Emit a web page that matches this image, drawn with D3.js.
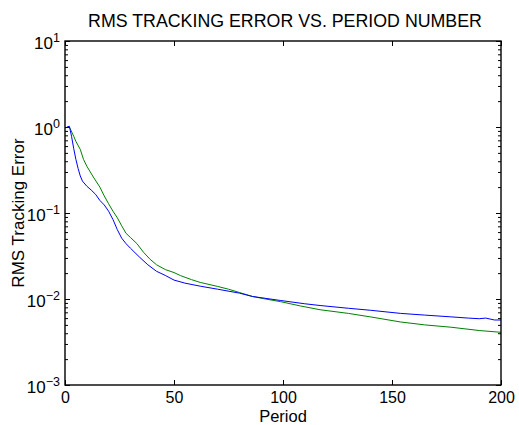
<!DOCTYPE html>
<html>
<head>
<meta charset="utf-8">
<script src="https://cdn.jsdelivr.net/npm/d3@7"></script>
<style>
html,body{margin:0;padding:0;background:#fff;}
text{font-family:"Liberation Sans",Arial,Helvetica,sans-serif;fill:#000;}
</style>
</head>
<body>
<svg id="chart" width="519" height="425"></svg>
<script>
// ---- data ----
const titleText = "RMS TRACKING ERROR VS. PERIOD NUMBER";
const xLabel = "Period";
const yLabel = "RMS Tracking Error";
const xTicks = [0, 50, 100, 150, 200];
const yTickExps = [-3, -2, -1, 0, 1];

const bluePeriods = [1, 2, 3, 4, 5, 6, 7, 8, 10, 12, 14, 16, 18, 20, 22, 24, 26, 28, 30, 34, 38, 42, 46, 50, 55, 62, 70, 80, 86, 99, 110, 117, 130, 140, 154, 165, 177, 185, 190, 193, 197, 200];
const blueValues  = [1.0, 1.02, 0.78, 0.56, 0.42, 0.33, 0.27, 0.235, 0.205, 0.185, 0.165, 0.14, 0.124, 0.105, 0.084, 0.064, 0.051, 0.044, 0.039, 0.031, 0.025, 0.021, 0.0188, 0.0166, 0.0153, 0.0141, 0.0130, 0.0117, 0.0107, 0.0096, 0.0088, 0.0084, 0.0078, 0.0074, 0.0068, 0.0065, 0.0062, 0.0060, 0.0059, 0.0060, 0.0057, 0.0057];

const greenPeriods = [1, 2, 4, 5, 7, 8.5, 10, 13, 16, 18, 20, 22, 24, 26, 28, 30, 33, 36, 39, 42, 46, 50, 53, 58, 62, 70, 75, 80, 86, 92, 99, 108, 117, 130, 140, 154, 165, 177, 190, 200];
const greenValues  = [1.0, 1.0, 0.78, 0.68, 0.55, 0.42, 0.35, 0.262, 0.2, 0.158, 0.128, 0.105, 0.088, 0.071, 0.058, 0.052, 0.044, 0.035, 0.029, 0.025, 0.022, 0.0203, 0.0187, 0.0168, 0.0156, 0.0140, 0.0130, 0.0119, 0.0107, 0.0100, 0.0093, 0.0083, 0.0075, 0.0068, 0.0062, 0.0054, 0.0050, 0.0047, 0.0043, 0.0041];

const blueColor = "#0000ff";
const greenColor = "#008000";

// ---- layout ----
const svg = d3.select("#chart");
const L = 65, R = 501, T = 41, B = 385;

const x = d3.scaleLinear().domain([0, 200]).range([L, R]);
const y = d3.scaleLog().domain([1e-3, 10]).range([B, T]);

const minorVals = [];
yTickExps.slice(0, -1).forEach(e => { for (let k = 2; k <= 9; k++) minorVals.push(k * Math.pow(10, e)); });
const majorVals = yTickExps.map(e => Math.pow(10, e));

// lines
const line = d3.line().x(d => x(d[0])).y(d => y(d[1]));
const blueData = d3.zip(bluePeriods, blueValues);
const greenData = d3.zip(greenPeriods, greenValues);

const plot = svg.append("g");
plot.append("path").datum(greenData).attr("d", line)
  .attr("fill", "none").attr("stroke", greenColor).attr("stroke-width", 1);
plot.append("path").datum(blueData).attr("d", line)
  .attr("fill", "none").attr("stroke", blueColor).attr("stroke-width", 1);

function styleAxis(g) {
  g.select(".domain").remove();
  g.selectAll(".tick line").attr("stroke", "#000").attr("stroke-width", 1);
}
// bottom
svg.append("g").attr("transform", `translate(0,${B})`)
  .call(d3.axisBottom(x).tickValues(xTicks).tickSize(-5).tickPadding(7).tickFormat(d3.format("d")))
  .call(styleAxis)
  .call(g => g.selectAll(".tick text").attr("font-size", 16).attr("dy", "0.71em"));
// top
svg.append("g").attr("transform", `translate(0,${T})`)
  .call(d3.axisTop(x).tickValues(xTicks).tickSize(-5).tickFormat(""))
  .call(styleAxis);
// left major
svg.append("g").attr("transform", `translate(${L},0)`)
  .call(d3.axisLeft(y).tickValues(majorVals).tickSize(-5).tickFormat(""))
  .call(styleAxis)
  .call(g => {
    g.selectAll(".tick text").remove();
    g.selectAll(".tick").each(function(d) {
      const e = Math.round(Math.log10(d));
      const t = d3.select(this).append("text")
        .attr("y", 0).attr("dy", "0.42em")
        .attr("text-anchor", "start").attr("font-size", 17);
      t.append("tspan").text("10");
      t.append("tspan").attr("dy", "-0.55em").attr("font-size", 12.5)
        .text(e < 0 ? "\u2212" + (-e) : String(e));
      const bb = t.node().getBBox();
      t.attr("x", -5 - bb.width);
    });
  });
// left minor
svg.append("g").attr("transform", `translate(${L},0)`)
  .call(d3.axisLeft(y).tickValues(minorVals).tickSize(-3).tickFormat(""))
  .call(styleAxis);
// right major + minor
svg.append("g").attr("transform", `translate(${R},0)`)
  .call(d3.axisRight(y).tickValues(majorVals).tickSize(-5).tickFormat(""))
  .call(styleAxis);
svg.append("g").attr("transform", `translate(${R},0)`)
  .call(d3.axisRight(y).tickValues(minorVals).tickSize(-3).tickFormat(""))
  .call(styleAxis);

// frame
svg.append("rect").attr("x", L).attr("y", T).attr("width", R - L).attr("height", B - T)
  .attr("fill", "none").attr("stroke", "#000").attr("stroke-width", 1.4);

// texts
svg.append("text").attr("x", (L + R) / 2 + 2).attr("y", 27)
  .attr("text-anchor", "middle").attr("font-size", 17.8).text(titleText);
svg.append("text").attr("x", (L + R) / 2).attr("y", 422)
  .attr("text-anchor", "middle").attr("font-size", 16.5).text(xLabel);
svg.append("text").attr("transform", `translate(24,${(T + B) / 2}) rotate(-90)`)
  .attr("text-anchor", "middle").attr("font-size", 17).text(yLabel);
</script>
</body>
</html>
